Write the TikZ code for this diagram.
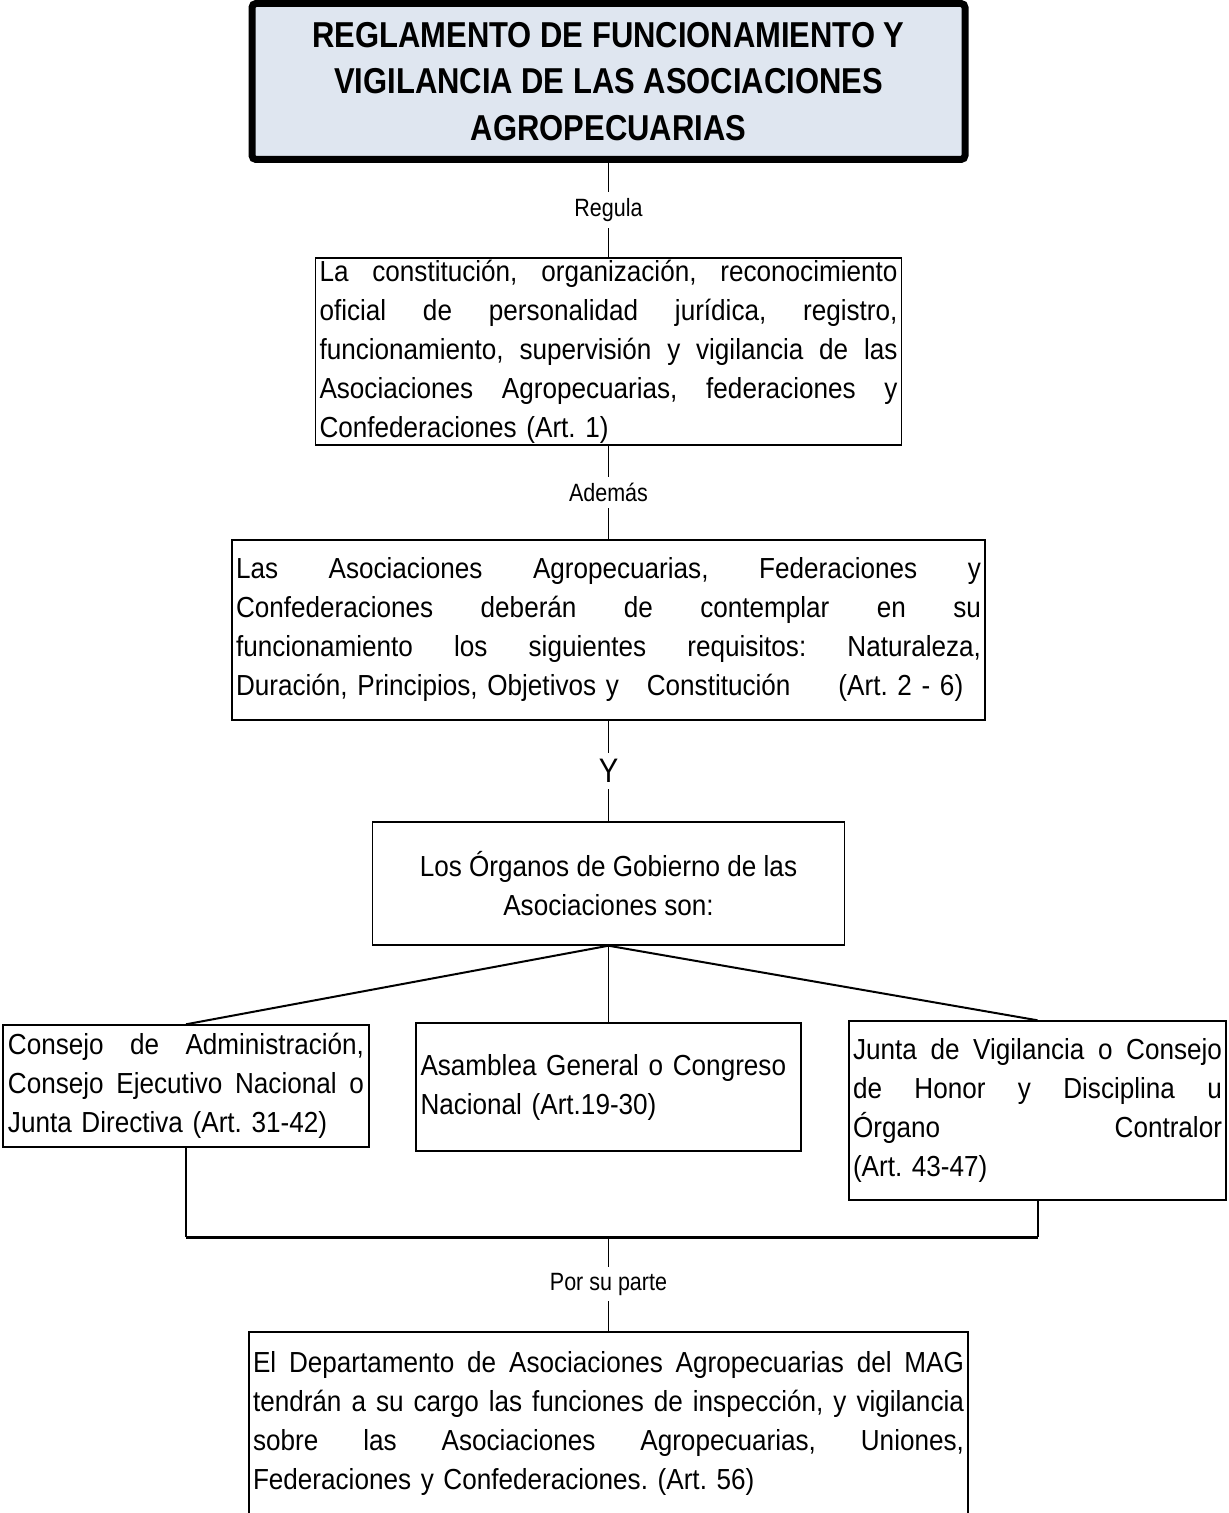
\documentclass[tikz,border=0pt]{standalone}
\usepackage{fontspec}
\setmainfont{Liberation Sans}
\newfontfamily\bodyfont{Liberation Sans}[FakeStretch=0.9]
\newfontfamily\headfont{Liberation Sans}[FakeStretch=0.86]
\newfontfamily\tagfont{Liberation Sans}[FakeStretch=0.86]
\definecolor{titlefill}{RGB}{223,230,240}
\frenchspacing
% a fully justified line spanning the node's text width
\newcommand\jline[1]{\makebox[\hsize][s]{\spaceskip=.278em plus 1fil\relax #1}}

\tikzset{
  titlebox/.style={draw, line width=3.5pt, rounded corners=2pt, fill=titlefill,
    minimum width=356.5pt, minimum height=78pt, align=center, inner sep=0pt,
    font={\headfont\bfseries\fontsize{18pt}{23.35pt}\selectfont}},
  textbox/.style={draw, line width=0.7pt, inner xsep=2pt, inner ysep=0pt, align=left,
    font={\bodyfont\fontsize{14.5pt}{19.5pt}\selectfont}},
  tag/.style={fill=white, inner xsep=1pt, inner ysep=3pt,
    font={\tagfont\fontsize{12.5pt}{14pt}\selectfont}},
  bigtag/.style={fill=white, inner xsep=1pt, inner ysep=3pt,
    font={\tagfont\fontsize{17pt}{19pt}\selectfont}},
  link/.style={line width=0.6pt},
  branch/.style={line width=1pt},
  bus/.style={line width=1.5pt}
}

\begin{document}
\begin{tikzpicture}[x=0.5pt,y=-0.5pt]
\useasboundingbox (0,0) rectangle (1228,1513);
\clip (0,0) rectangle (1228,1513);

% heading
\node[titlebox] (t) at (608.5,81.5)
  {REGLAMENTO DE FUNCIONAMIENTO Y\\VIGILANCIA DE LAS ASOCIACIONES\\AGROPECUARIAS};

% scope of the regulation
\node[textbox, minimum width=293pt, minimum height=93.5pt, text width=289pt] (b2) at (608.5,351.5)
  {\jline{La constitución, organización, reconocimiento}\\
   \jline{oficial de personalidad jurídica, registro,}\\
   \jline{funcionamiento, supervisión y vigilancia de las}\\
   \jline{Asociaciones Agropecuarias, federaciones y}\\
   Confederaciones (Art. 1)};

% requirements
\node[textbox, minimum width=376.5pt, minimum height=90pt, text width=372.5pt] (b3) at (608.5,630)
  {\jline{Las Asociaciones Agropecuarias, Federaciones y}\\
   \jline{Confederaciones deberán de contemplar en su}\\
   \jline{funcionamiento los siguientes requisitos: Naturaleza,}\\
   \makebox[\hsize][l]{Duración, Principios, Objetivos y\hspace{14pt}Constitución\hspace{24pt}(Art. 2 - 6)}};

% governing bodies
\node[textbox, align=center, minimum width=236pt, minimum height=61.5pt] (b4) at (608.5,883.5)
  {Los Órganos de Gobierno de las\\Asociaciones son:};

\node[textbox, minimum width=183pt, minimum height=61pt, text width=178pt] (left) at (186,1086)
  {\jline{Consejo de Administración,}\\
   \jline{Consejo Ejecutivo Nacional o}\\
   Junta Directiva (Art. 31-42)};

\node[textbox, minimum width=192.5pt, minimum height=64pt, text width=188pt] (mid) at (608.5,1087)
  {Asamblea General o Congreso\\Nacional (Art.19-30)};

\node[textbox, minimum width=188.5pt, minimum height=89.5pt, text width=184.5pt] (right) at (1037.5,1110.5)
  {\jline{Junta de Vigilancia o Consejo}\\
   \jline{de Honor y Disciplina u}\\
   \jline{Órgano Contralor}\\
   (Art. 43-47)};

% supervising department
\node[textbox, minimum width=359pt, minimum height=91.5pt, text width=355.5pt] (bot) at (608.5,1423.5)
  {\jline{El Departamento de Asociaciones Agropecuarias del MAG}\\
   \jline{tendrán a su cargo las funciones de inspección, y vigilancia}\\
   \jline{sobre las Asociaciones Agropecuarias, Uniones,}\\
   Federaciones y Confederaciones. (Art. 56)};

% connectors
\draw[link] (t.south) -- node[tag] {Regula} (b2.north);
\draw[link] (b2.south) -- node[tag] {Además} (b3.north);
\draw[link] (b3.south) -- node[bigtag] {Y} (b4.north);

\draw[branch] (b4.south) -- (left.north);
\draw[link] (b4.south) -- (mid.north);
\draw[branch] (b4.south) -- (right.north);

\coordinate (j) at (608.5,1237);
\draw[branch] (left.south) -- (left.south |- j);
\draw[branch] (right.south) -- (right.south |- j);
\draw[bus] (left.south |- j) -- (right.south |- j);
\draw[link] (j) -- node[tag] {Por su parte} (bot.north);
\end{tikzpicture}
\end{document}
